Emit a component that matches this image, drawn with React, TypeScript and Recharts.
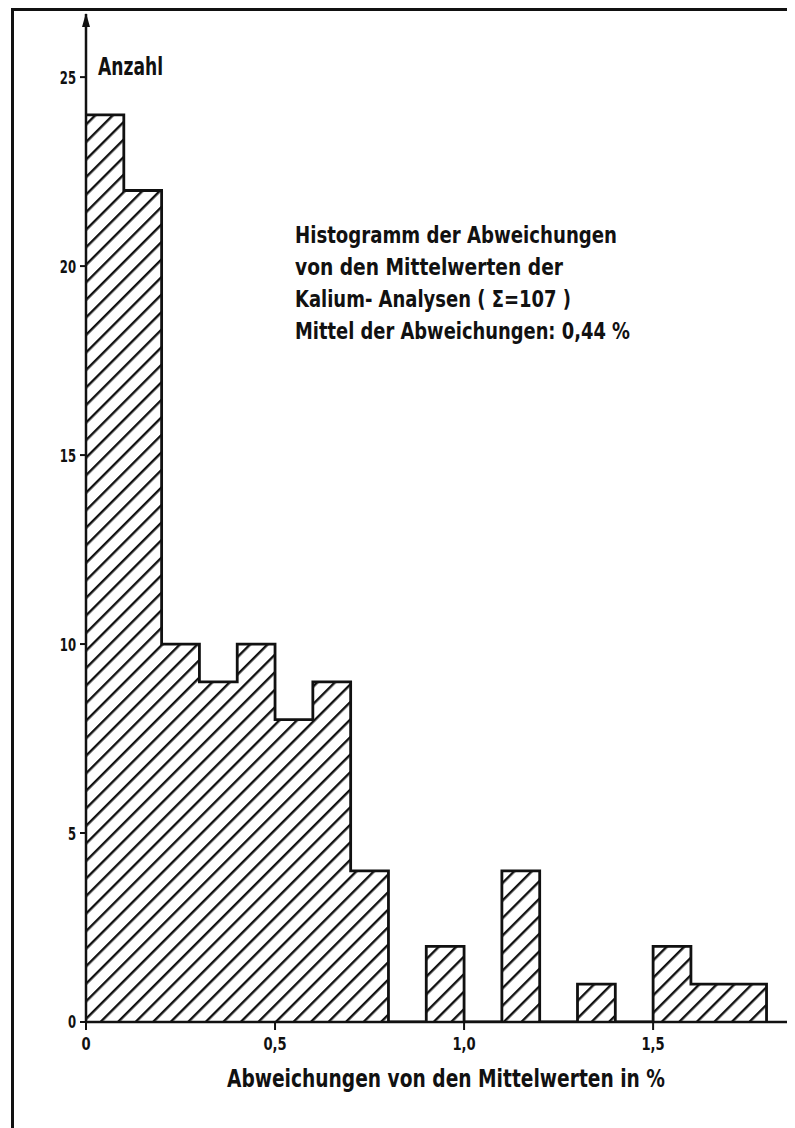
import React from "react";
import { ComposedChart, Area, XAxis, YAxis } from "recharts";

// bin starts (width 0.1 %) and counts, last point closes the outline
const binStarts = [0, 0.1, 0.2, 0.3, 0.4, 0.5, 0.6, 0.7, 0.8, 0.9, 1.0, 1.1, 1.2, 1.3, 1.4, 1.5, 1.6, 1.7, 1.8];
const counts = [24, 22, 10, 9, 10, 8, 9, 4, 0, 2, 0, 4, 0, 1, 0, 2, 1, 1, 0];

const xTicks = [0, 0.5, 1.0, 1.5];
const xTickLabels = ["0", "0,5", "1,0", "1,5"];
const yTicks = [0, 5, 10, 15, 20, 25];

const noteLines = [
  "Histogramm der Abweichungen",
  "von den Mittelwerten der",
  "Kalium- Analysen ( \u03A3=107 )",
  "Mittel der Abweichungen: 0,44 %",
];
// rendered widths of the note lines (the lettering is narrow)
const noteWidths = [322, 268, 276, 335];

const data = binStarts.map((x, i) => ({ x, count: counts[i] }));

const FONT = "'DejaVu Sans Condensed', 'DejaVu Sans', sans-serif";
const INK = "#111";

const XTick = (p: any) => {
  const { x, y, payload } = p;
  const label = xTickLabels[xTicks.indexOf(payload.value)] ?? String(payload.value);
  return (
    <g transform={`translate(${x} ${y}) scale(0.86 1)`}>
      <text x={0} y={0} dy="0.71em" textAnchor="middle" fill={INK} fontSize={17} fontWeight={700} fontFamily={FONT}>
        {label}
      </text>
    </g>
  );
};

const YTick = (p: any) => {
  const { x, y, payload } = p;
  return (
    <g transform={`translate(${x} ${y}) scale(0.72 1)`}>
      <text x={0} y={0} dy="0.36em" textAnchor="end" fill={INK} fontSize={18} fontWeight={700} fontFamily={FONT}>
        {payload.value}
      </text>
    </g>
  );
};

export default function App() {
  return (
    <div style={{ position: "relative", width: 787, height: 1120, overflow: "hidden", background: "#fff" }}>
      {/* frame (only left and top edges are visible in the scan) */}
      <div
        style={{
          position: "absolute",
          left: 3,
          top: 0,
          width: 900,
          height: 1300,
          borderLeft: `3px solid ${INK}`,
          borderTop: `3px solid ${INK}`,
        }}
      />
      <div style={{ position: "absolute", left: 0, top: 0 }}>
        <ComposedChart
          width={787}
          height={1120}
          data={data}
          margin={{ top: 6, right: 2, left: 0, bottom: 0 }}
        >
          <defs>
            <pattern
              id="hatch"
              patternUnits="userSpaceOnUse"
              width="12.4"
              height="12.4"
              patternTransform="rotate(45)"
            >
              <rect width="12.4" height="12.4" fill="#fff" />
              <line x1="1.2" y1="0" x2="1.2" y2="12.4" stroke={INK} strokeWidth="2.4" />
            </pattern>
            <marker
              id="arrowHead"
              viewBox="0 0 14 8"
              refX="13"
              refY="4"
              markerWidth="14"
              markerHeight="8"
              markerUnits="userSpaceOnUse"
              orient="auto-start-reverse"
            >
              <path d="M0,0 L14,4 L0,8 z" fill={INK} />
            </marker>
            <marker
              id="dotHead"
              viewBox="0 0 8 8"
              refX="4"
              refY="4"
              markerWidth="7"
              markerHeight="7"
              markerUnits="userSpaceOnUse"
            >
              <circle cx="4" cy="4" r="4" fill={INK} />
            </marker>
          </defs>
          <XAxis
            dataKey="x"
            type="number"
            domain={[0, 1.87]}
            ticks={xTicks}
            height={106}
            tickSize={8}
            tickMargin={8}
            axisLine={{ stroke: INK, strokeWidth: 2.5, markerEnd: "url(#dotHead)" }}
            tickLine={{ stroke: INK, strokeWidth: 2 }}
            tick={<XTick />}
            allowDataOverflow
          />
          <YAxis
            type="number"
            domain={[0, 26.67]}
            ticks={yTicks}
            width={78}
            tickSize={6}
            tickMargin={4}
            axisLine={{ stroke: INK, strokeWidth: 2.5, markerStart: "url(#arrowHead)" }}
            tickLine={{ stroke: INK, strokeWidth: 2 }}
            tick={<YTick />}
            allowDataOverflow
          />
          <Area
            type="stepAfter"
            dataKey="count"
            baseValue={0}
            stroke={INK}
            strokeWidth={2.8}
            fill="url(#hatch)"
            fillOpacity={1}
            dot={false}
            activeDot={false}
            isAnimationActive={false}
          />
        </ComposedChart>
      </div>
      <svg
        width={787}
        height={1120}
        style={{ position: "absolute", left: 0, top: 0, pointerEvents: "none" }}
      >
        <g fontFamily={FONT} fontWeight={700} fill={INK}>
          <text x={90} y={67} fontSize={24} textLength={65} lengthAdjust="spacingAndGlyphs">
            Anzahl
          </text>
          {noteLines.map((t, i) => (
            <text
              key={i}
              x={287}
              y={235 + i * 32}
              fontSize={23}
              textLength={noteWidths[i]}
              lengthAdjust="spacingAndGlyphs"
            >
              {t}
            </text>
          ))}
          <text x={219} y={1079} fontSize={25} textLength={438} lengthAdjust="spacingAndGlyphs">
            Abweichungen von den Mittelwerten in %
          </text>
        </g>
      </svg>
    </div>
  );
}
